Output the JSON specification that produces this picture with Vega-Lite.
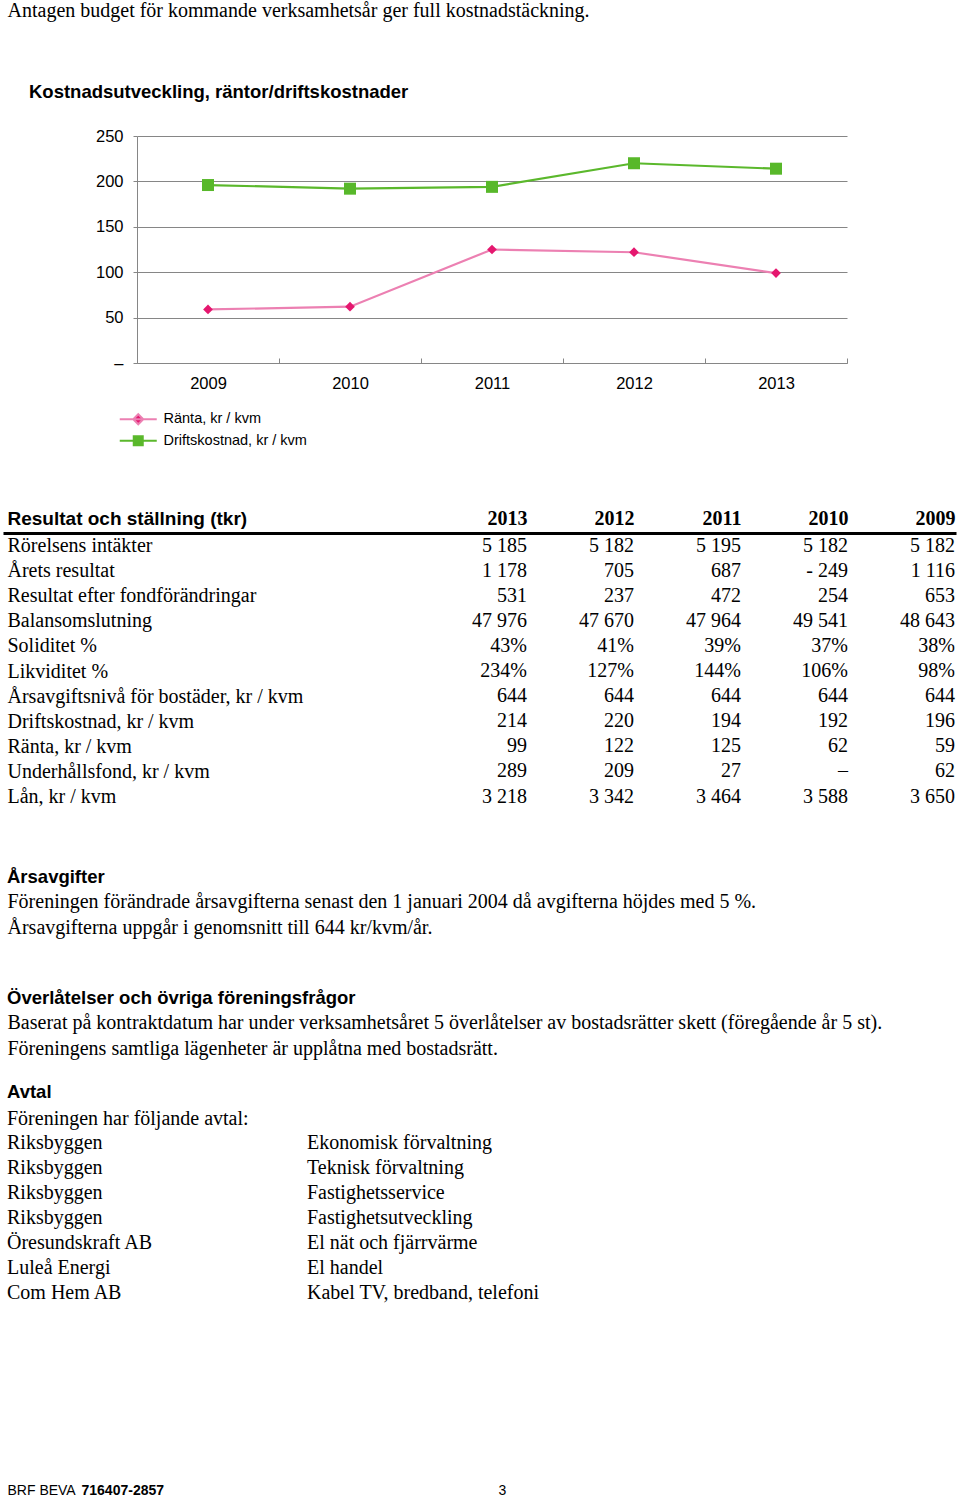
{
  "$schema": "https://vega.github.io/schema/vega-lite/v6.json",
  "usermeta": {"embedOptions": {"actions": false}},
  "background": "white",
  "padding": {"left": 7, "top": 1, "right": 0, "bottom": 0},
  "autosize": {"type": "pad"},
  "spacing": 0,
  "config": {
    "view": {"stroke": null},
    "axis": {"minExtent": 0},
    "axisX": {"minExtent": 0},
    "axisY": {"minExtent": 0},
    "text": {"font": "Liberation Serif", "fontSize": 20, "color": "#000000"},
    "title": {"font": "Liberation Sans", "fontSize": 18.5, "fontWeight": "bold", "color": "#000000", "anchor": "start", "frame": "group"}
  },
  "vconcat": [
    {
      "width": 1,
      "height": 71,
      "data": {"values": [{"rad": "Antagen budget för kommande verksamhetsår ger full kostnadstäckning."}]},
      "mark": {"type": "text", "align": "left", "baseline": "middle"},
      "encoding": {
        "y": {"field": "rad", "type": "nominal", "axis": null, "scale": {"align": 0}},
        "text": {"field": "rad"}
      }
    },
    {
      "width": 840,
      "height": 227,
      "title": {"text": "Kostnadsutveckling, räntor/driftskostnader", "dx": 22, "offset": 27},
      "data": {"values": [
        {"ar": "2009", "serie": "Ränta, kr / kvm", "varde": 59},
        {"ar": "2010", "serie": "Ränta, kr / kvm", "varde": 62},
        {"ar": "2011", "serie": "Ränta, kr / kvm", "varde": 125},
        {"ar": "2012", "serie": "Ränta, kr / kvm", "varde": 122},
        {"ar": "2013", "serie": "Ränta, kr / kvm", "varde": 99},
        {"ar": "2009", "serie": "Driftskostnad, kr / kvm", "varde": 196},
        {"ar": "2010", "serie": "Driftskostnad, kr / kvm", "varde": 192},
        {"ar": "2011", "serie": "Driftskostnad, kr / kvm", "varde": 194},
        {"ar": "2012", "serie": "Driftskostnad, kr / kvm", "varde": 220},
        {"ar": "2013", "serie": "Driftskostnad, kr / kvm", "varde": 214}
      ]},
      "encoding": {
        "x": {
          "field": "ar", "type": "ordinal",
          "scale": {"type": "band", "range": [130, 840], "paddingInner": 0, "paddingOuter": 0},
          "axis": {"title": null, "labelAngle": 0, "tickBand": "extent", "domainColor": "#868686", "tickColor": "#868686", "tickSize": -5, "labelPadding": 25, "labelBaseline": "middle", "labelFont": "Liberation Sans", "labelFontSize": 16.5, "labelColor": "#000000", "minExtent": 145, "maxExtent": 200}
        },
        "y": {
          "field": "varde", "type": "quantitative",
          "scale": {"domain": [0, 250], "nice": false},
          "axis": {"title": null, "values": [0, 50, 100, 150, 200, 250], "offset": -130, "grid": true, "gridColor": "#868686", "gridOpacity": 1, "domainColor": "#868686", "tickColor": "#868686", "tickSize": 4, "labelPadding": 10, "labelFont": "Liberation Sans", "labelFontSize": 16.5, "labelColor": "#000000", "labelExpr": "datum.value === 0 ? '–' : datum.label"}
        }
      },
      "layer": [
        {
          "mark": {"type": "line", "strokeWidth": 2.2},
          "encoding": {
            "color": {
              "field": "serie", "type": "nominal",
              "scale": {"domain": ["Ränta, kr / kvm", "Driftskostnad, kr / kvm"], "range": ["#ec80b2", "#5bb82c"]},
              "legend": {
                "orient": "none", "legendX": 124, "legendY": 401, "direction": "vertical", "title": null, "padding": 0,
                "symbolSize": 100, "symbolStrokeWidth": 2, "labelOffset": 18, "rowPadding": 2.5,
                "labelFont": "Liberation Sans", "labelFontSize": 14.5, "labelColor": "#000000",
                "encode": {
                  "symbols": {
                    "update": {
                      "shape": {"signal": "datum.value === 'Ränta, kr / kvm' ? 'M-3.7,0H3.7M0,-1L1,0L0,1L-1,0Z' : 'M-3.7,0H3.7M-0.9,-0.9H0.9V0.9H-0.9Z'"},
                      "fill": {"signal": "datum.value === 'Ränta, kr / kvm' ? '#e5176f' : '#58b82a'"},
                      "stroke": {"signal": "datum.value === 'Ränta, kr / kvm' ? '#ec80b2' : '#5bb82c'"},
                      "strokeWidth": {"value": 2},
                      "opacity": {"value": 1},
                      "fillOpacity": {"value": 1},
                      "size": {"value": 100}
                    }
                  }
                }
              }
            }
          }
        },
        {
          "transform": [{"filter": "datum.serie === 'Ränta, kr / kvm'"}],
          "mark": {"type": "point", "filled": true, "opacity": 1, "shape": "diamond", "size": 95, "color": "#e5176f"}
        },
        {
          "transform": [{"filter": "datum.serie === 'Driftskostnad, kr / kvm'"}],
          "mark": {"type": "point", "filled": true, "opacity": 1, "shape": "square", "size": 144, "color": "#58b82a"}
        }
      ]
    },
    {
      "width": 948,
      "height": 334,
      "data": {"values": [
        {"label": "Rörelsens intäkter", "2013": "5 185", "2012": "5 182", "2011": "5 195", "2010": "5 182", "2009": "5 182"},
        {"label": "Årets resultat", "2013": "1 178", "2012": "705", "2011": "687", "2010": "- 249", "2009": "1 116"},
        {"label": "Resultat efter fondförändringar", "2013": "531", "2012": "237", "2011": "472", "2010": "254", "2009": "653"},
        {"label": "Balansomslutning", "2013": "47 976", "2012": "47 670", "2011": "47 964", "2010": "49 541", "2009": "48 643"},
        {"label": "Soliditet %", "2013": "43%", "2012": "41%", "2011": "39%", "2010": "37%", "2009": "38%"},
        {"label": "Likviditet %", "2013": "234%", "2012": "127%", "2011": "144%", "2010": "106%", "2009": "98%"},
        {"label": "Årsavgiftsnivå för bostäder, kr / kvm", "2013": "644", "2012": "644", "2011": "644", "2010": "644", "2009": "644"},
        {"label": "Driftskostnad, kr / kvm", "2013": "214", "2012": "220", "2011": "194", "2010": "192", "2009": "196"},
        {"label": "Ränta, kr / kvm", "2013": "99", "2012": "122", "2011": "125", "2010": "62", "2009": "59"},
        {"label": "Underhållsfond, kr / kvm", "2013": "289", "2012": "209", "2011": "27", "2010": "–", "2009": "62"},
        {"label": "Lån, kr / kvm", "2013": "3 218", "2012": "3 342", "2011": "3 464", "2010": "3 588", "2009": "3 650"}
      ]},
      "transform": [{"fold": ["2013", "2012", "2011", "2010", "2009"], "as": ["ar", "varde"]}],
      "mark": {"type": "text", "align": "right", "baseline": "middle"},
      "encoding": {
        "x": {
          "field": "ar", "type": "quantitative",
          "scale": {"domain": [2008.991, 2017.897], "range": [949, -4], "nice": false, "zero": false},
          "axis": {"orient": "top", "values": [2013, 2012, 2011, 2010, 2009], "format": "d",
            "title": "Resultat och ställning (tkr)", "titleX": 0, "titleY": -9, "titleAlign": "left", "titleAnchor": "start", "titleAngle": 0, "titleBaseline": "alphabetic",
            "titleFont": "Liberation Sans", "titleFontSize": 19, "titleFontWeight": "bold", "titleColor": "#000000", "titlePadding": 0,
            "labelAlign": "right", "labelBaseline": "alphabetic", "labelPadding": 9, "labelFont": "Liberation Serif", "labelFontSize": 20, "labelFontWeight": "bold", "labelColor": "#000000", "labelFlush": false, "labelOverlap": false,
            "ticks": false, "tickSize": 0, "domain": true, "domainColor": "#000000", "domainWidth": 3, "grid": false}
        },
        "y": {
          "field": "label", "type": "nominal", "sort": null,
          "scale": {"range": [12.55, 263.55], "padding": 0},
          "axis": {"orient": "left", "title": null, "ticks": false, "tickSize": 0, "domain": false, "grid": false, "labelAlign": "left", "labelPadding": 0, "labelFont": "Liberation Serif", "labelFontSize": 20, "labelColor": "#000000", "labelLimit": 0, "labelOverlap": false, "minExtent": 0}
        },
        "text": {"field": "varde"}
      }
    },
    {
      "width": 1,
      "height": 86,
      "title": {"text": "Årsavgifter", "offset": 6},
      "data": {"values": [
        {"rad": "Föreningen förändrade årsavgifterna senast den 1 januari 2004 då avgifterna höjdes med 5 %."},
        {"rad": "Årsavgifterna uppgår i genomsnitt till 644 kr/kvm/år."}
      ]},
      "mark": {"type": "text", "align": "left", "baseline": "middle"},
      "encoding": {
        "y": {"field": "rad", "type": "nominal", "sort": null, "axis": null, "scale": {"range": [0, 26], "padding": 0}},
        "text": {"field": "rad"}
      }
    },
    {
      "width": 1,
      "height": 59,
      "title": {"text": "Överlåtelser och övriga föreningsfrågor", "offset": 6},
      "data": {"values": [
        {"rad": "Baserat på kontraktdatum har under verksamhetsåret 5 överlåtelser av bostadsrätter skett (föregående år 5 st)."},
        {"rad": "Föreningens samtliga lägenheter är upplåtna med bostadsrätt."}
      ]},
      "mark": {"type": "text", "align": "left", "baseline": "middle"},
      "encoding": {
        "y": {"field": "rad", "type": "nominal", "sort": null, "axis": null, "scale": {"range": [0, 26], "padding": 0}},
        "text": {"field": "rad"}
      }
    },
    {
      "width": 600,
      "height": 340,
      "title": {"text": "Avtal", "subtitle": "Föreningen har följande avtal:", "subtitleFont": "Liberation Serif", "subtitleFontSize": 20, "subtitleColor": "#000000", "subtitleFontWeight": "normal", "subtitlePadding": 8, "offset": 4},
      "data": {"values": [
        {"part": "Riksbyggen", "avtal": "Ekonomisk förvaltning"},
        {"part": "Riksbyggen", "avtal": "Teknisk förvaltning"},
        {"part": "Riksbyggen", "avtal": "Fastighetsservice"},
        {"part": "Riksbyggen", "avtal": "Fastighetsutveckling"},
        {"part": "Öresundskraft AB", "avtal": "El nät och fjärrvärme"},
        {"part": "Luleå Energi", "avtal": "El handel"},
        {"part": "Com Hem AB", "avtal": "Kabel TV, bredband, telefoni"}
      ]},
      "transform": [{"fold": ["part", "avtal"], "as": ["kol", "cell"]}],
      "mark": {"type": "text", "align": "left", "baseline": "middle"},
      "encoding": {
        "x": {"field": "kol", "type": "nominal", "sort": ["part", "avtal"], "bandPosition": 0, "scale": {"type": "band", "paddingInner": 0, "paddingOuter": 0}, "axis": null},
        "y": {"field": "avtal", "type": "nominal", "sort": null, "axis": null, "scale": {"range": [0, 150], "padding": 0}},
        "text": {"field": "cell"}
      }
    },
    {
      "width": 1,
      "height": 1,
      "data": {"values": [{"forening": "BRF BEVA", "orgnr": "716407-2857", "sida": "3"}]},
      "layer": [
        {"mark": {"type": "text", "align": "left", "baseline": "middle", "font": "Liberation Sans", "fontSize": 14}, "encoding": {"text": {"field": "forening"}}},
        {"mark": {"type": "text", "align": "left", "baseline": "middle", "font": "Liberation Sans", "fontSize": 14, "fontWeight": "bold", "dx": 74}, "encoding": {"text": {"field": "orgnr"}}},
        {"mark": {"type": "text", "align": "left", "baseline": "middle", "font": "Liberation Sans", "fontSize": 14, "dx": 491}, "encoding": {"text": {"field": "sida"}}}
      ]
    }
  ]
}
